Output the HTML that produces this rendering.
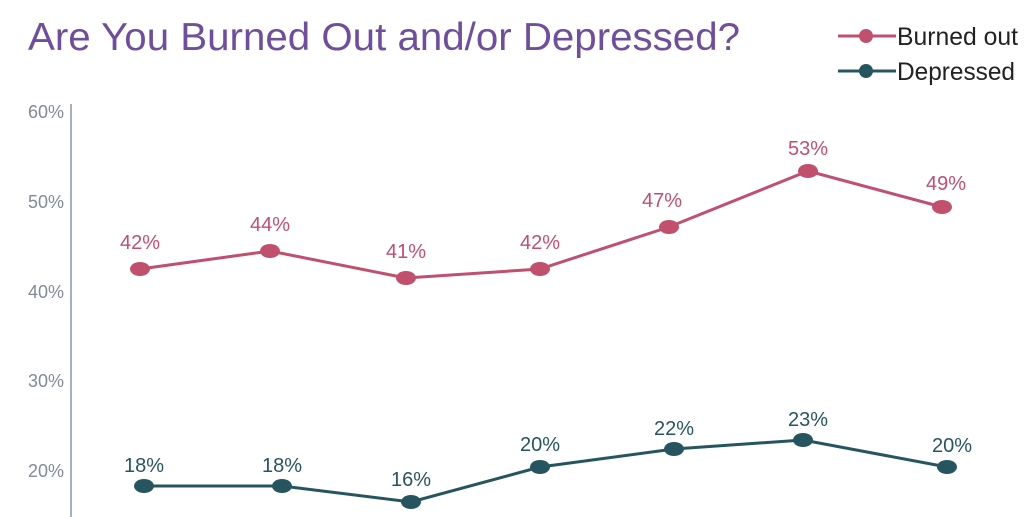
<!DOCTYPE html>
<html><head><style>html,body{margin:0;padding:0;background:#fff;width:1024px;height:517px;overflow:hidden}</style></head>
<body>
<svg width="1024" height="517" xmlns="http://www.w3.org/2000/svg" font-family="Liberation Sans, sans-serif">
<text x="28" y="50" font-size="39" fill="#6f4e9c" textLength="712" lengthAdjust="spacingAndGlyphs">Are You Burned Out and/or Depressed?</text>
<line x1="838" y1="36" x2="896" y2="36" stroke="#c0506e" stroke-width="3"/>
<circle cx="866" cy="36" r="7" fill="#c0506e"/>
<text x="897" y="45" font-size="25" fill="#222" textLength="121" lengthAdjust="spacingAndGlyphs">Burned out</text>
<line x1="838" y1="71" x2="896" y2="71" stroke="#265560" stroke-width="3"/>
<circle cx="866" cy="71" r="7" fill="#265560"/>
<text x="897" y="80" font-size="25" fill="#222" textLength="118" lengthAdjust="spacingAndGlyphs">Depressed</text>
<line x1="71" y1="104" x2="71" y2="517" stroke="#8a96a3" stroke-width="1.5"/>
<g font-size="18" fill="#7f8b98" text-anchor="end">
<text x="64" y="118">60%</text><text x="64" y="208">50%</text><text x="64" y="298">40%</text><text x="64" y="387">30%</text><text x="64" y="477">20%</text>
</g>
<polyline fill="none" stroke="#c0506e" stroke-width="3" points="140,269 270,251 406,278 540,269 669,227 808,171 942,207"/>
<g fill="#c0506e"><ellipse cx="140" cy="269" rx="10" ry="7"/><ellipse cx="270" cy="251" rx="10" ry="7"/><ellipse cx="406" cy="278" rx="10" ry="7"/><ellipse cx="540" cy="269" rx="10" ry="7"/><ellipse cx="669" cy="227" rx="10" ry="7"/><ellipse cx="808" cy="171" rx="10" ry="7"/><ellipse cx="942" cy="207" rx="10" ry="7"/></g>
<g font-size="20" fill="#c0506e" text-anchor="middle">
<text x="140" y="249">42%</text><text x="270" y="231">44%</text><text x="406" y="258">41%</text><text x="540" y="249">42%</text><text x="662" y="207">47%</text><text x="808" y="155">53%</text><text x="946" y="190">49%</text>
</g>
<polyline fill="none" stroke="#265560" stroke-width="3" points="144,486 282,486 411,502 540,467 674,449 803,440 947,467"/>
<g fill="#265560"><ellipse cx="144" cy="486" rx="10" ry="7"/><ellipse cx="282" cy="486" rx="10" ry="7"/><ellipse cx="411" cy="502" rx="10" ry="7"/><ellipse cx="540" cy="467" rx="10" ry="7"/><ellipse cx="674" cy="449" rx="10" ry="7"/><ellipse cx="803" cy="440" rx="10" ry="7"/><ellipse cx="947" cy="467" rx="10" ry="7"/></g>
<g font-size="20" fill="#265560" text-anchor="middle">
<text x="144" y="472">18%</text><text x="282" y="472">18%</text><text x="411" y="486">16%</text><text x="540" y="451">20%</text><text x="674" y="435">22%</text><text x="808" y="426">23%</text><text x="952" y="452">20%</text>
</g>
</svg>
</body></html>
